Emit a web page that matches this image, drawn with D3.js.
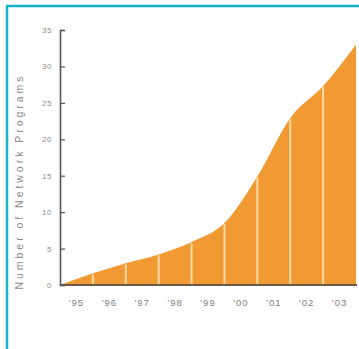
<!DOCTYPE html>
<html>
<head>
<meta charset="utf-8">
<script src="https://cdn.jsdelivr.net/npm/d3@7"></script>
<style>
  html, body { margin: 0; padding: 0; background: #fff; }
  svg { display: block; }
  text { font-family: "Liberation Sans", Arial, sans-serif; }
</style>
</head>
<body>
<svg id="chart" width="359" height="349"></svg>
<script>
// Network programs in operation at the end of each year
const years = ["'95", "'96", "'97", "'98", "'99", "'00", "'01", "'02", "'03"];
const programs = [1.6, 3.0, 4.2, 5.9, 8.5, 14.9, 22.9, 27.3, 33.0];
const yTicks = [0, 5, 10, 15, 20, 25, 30, 35];
const yTitle = "Number of Network Programs";

const svg = d3.select("#chart");

// frame around the panel
svg.append("rect")
  .attr("x", 7).attr("y", 6)
  .attr("width", 400).attr("height", 400)
  .attr("fill", "none")
  .attr("stroke", "#16b3cb")
  .attr("stroke-width", 2.5);

const plotLeft = 60, plotRight = 356, plotTop = 30, plotBottom = 285;

const x = d3.scaleBand().domain(years).range([plotLeft, plotRight]).padding(0);
const y = d3.scaleLinear().domain([0, 35]).range([plotBottom, plotTop]);

// area points: origin at the axis, then one at the close of each year
const pts = [{ px: plotLeft, v: 0 }].concat(
  years.map((yr, i) => ({ px: x(yr) + x.bandwidth(), v: programs[i] }))
);

const area = d3.area()
  .x(d => d.px)
  .y0(y(0))
  .y1(d => y(d.v))
  .curve(d3.curveMonotoneX);

svg.append("path")
  .datum(pts)
  .attr("d", area)
  .attr("fill", "#f19a33");

// pale dividers between the years
svg.append("g")
  .selectAll("line")
  .data(pts.slice(1, -1))
  .join("line")
  .attr("x1", d => d.px).attr("x2", d => d.px)
  .attr("y1", y(0)).attr("y2", d => y(d.v) + 1)
  .attr("stroke", "#fbd9a2")
  .attr("stroke-width", 2);

// baseline
svg.append("line")
  .attr("x1", plotLeft).attr("x2", plotRight + 1)
  .attr("y1", y(0)).attr("y2", y(0))
  .attr("stroke", "#6e5a44")
  .attr("stroke-width", 2);

// y axis with inward ticks
const yAxis = svg.append("g")
  .attr("transform", `translate(${plotLeft},0)`)
  .call(d3.axisLeft(y).tickValues(yTicks).tickSize(-5).tickPadding(8));
yAxis.select(".domain").attr("stroke", "#555").attr("stroke-width", 1.6);
yAxis.selectAll(".tick line").attr("stroke", "#555").attr("stroke-width", 1.2);
yAxis.selectAll(".tick text")
  .attr("fill", "#8a8a8a")
  .attr("font-size", 8)
  .attr("letter-spacing", 0.6);

// year labels under each band
svg.append("g")
  .selectAll("text")
  .data(years)
  .join("text")
  .attr("x", d => x(d) + x.bandwidth() / 2)
  .attr("y", 306)
  .attr("text-anchor", "middle")
  .attr("fill", "#808080")
  .attr("font-size", 9.5)
  .attr("letter-spacing", 1)
  .text(d => d);

// vertical axis title
svg.append("text")
  .attr("transform", "translate(23,183) rotate(-90)")
  .attr("text-anchor", "middle")
  .attr("fill", "#8a8a8a")
  .attr("font-size", 10.5)
  .attr("textLength", 213)
  .attr("lengthAdjust", "spacing")
  .text(yTitle);
</script>
</body>
</html>
